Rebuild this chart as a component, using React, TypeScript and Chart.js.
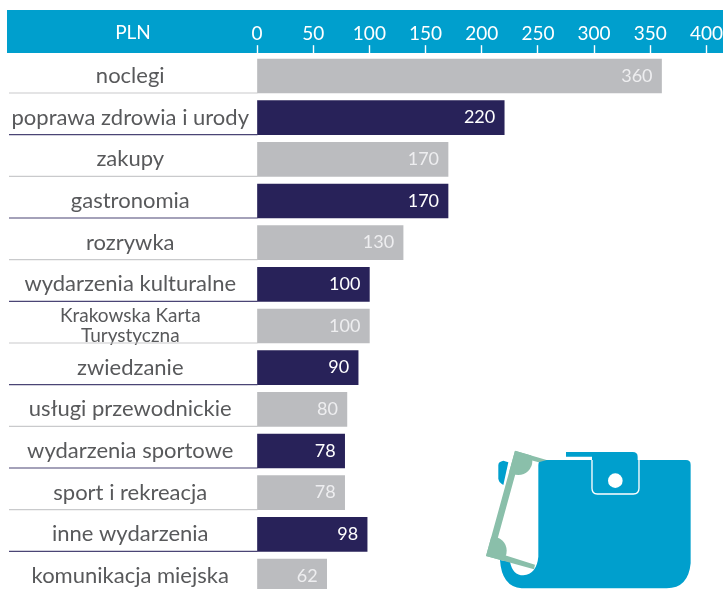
import React, { useEffect, useRef } from "react";
import { Chart, registerables } from "chart.js";

Chart.register(...registerables);

const categories: (string | string[])[] = [
  "noclegi", "poprawa zdrowia i urody", "zakupy", "gastronomia", "rozrywka",
  "wydarzenia kulturalne", ["Krakowska Karta", "Turystyczna"], "zwiedzanie",
  "usługi przewodnickie", "wydarzenia sportowe", "sport i rekreacja",
  "inne wydarzenia", "komunikacja miejska",
];
const values = [360, 220, 170, 170, 130, 100, 100, 90, 80, 78, 78, 98, 62];
const xTicks = [0, 50, 100, 150, 200, 250, 300, 350, 400];
const unitLabel = "PLN";

const BLUE = "#009fcd";
const NAVY = "#282259";
const GRAY = "#bbbcbf";
const TEXT = "#58595b";
const GREEN = "#8abfaa";
const FONT = "Lato";

const barColors = values.map((_, i) => (i % 2 === 0 ? GRAY : NAVY));

const decorations = {
  id: "decorations",
  beforeDatasetsDraw(chart: any) {
    const { ctx } = chart;
    const meta = chart.getDatasetMeta(0);
    ctx.save();
    meta.data.forEach((bar: any, i: number) => {
      const bottom = bar.y + bar.height / 2;
      ctx.strokeStyle = i % 2 === 0 ? "#c9cacc" : "#4a4575";
      ctx.lineWidth = 1.2;
      ctx.beginPath();
      ctx.moveTo(9, bottom);
      ctx.lineTo(bar.base, bottom);
      ctx.stroke();
    });
    ctx.restore();
  },
  beforeDraw(chart: any) {
    const { ctx } = chart;
    ctx.save();
    ctx.fillStyle = BLUE;
    ctx.fillRect(7, 10, 716, 43);
    ctx.fillStyle = "#ffffff";
    ctx.font = `19px ${FONT}`;
    ctx.textAlign = "center";
    ctx.textBaseline = "middle";
    ctx.fillText(unitLabel, 133, 33);
    ctx.restore();
  },
  afterDatasetsDraw(chart: any) {
    const { ctx } = chart;
    const meta = chart.getDatasetMeta(0);
    ctx.save();
    ctx.font = `18px ${FONT}`;
    ctx.textAlign = "right";
    ctx.textBaseline = "middle";
    meta.data.forEach((bar: any, i: number) => {
      ctx.fillStyle = i % 2 === 0 ? "#eeeef0" : "#ffffff";
      ctx.fillText(String(values[i]), bar.x - 9, bar.y);
    });
    ctx.restore();
  },
};

function Wallet() {
  return (
    <svg
      width={723}
      height={589}
      style={{ position: "absolute", left: 0, top: 0, pointerEvents: "none" }}
    >
      <defs>
        <clipPath id="note">
          <path d="M135 62 L230 90 L195 418 L48 378 Z" />
        </clipPath>
      </defs>
      <g transform="translate(470 430) scale(0.3333)">
        <path
          d="M85 105 Q85 95 100 92 L115 97 L100 165 Q85 158 85 145 Z"
          fill={BLUE}
        />
        <path
          d="M205 105 Q205 90 220 90 L366 90 L366 80 L288 80 L288 66 L488 66 Q503 66 503 80 L503 90 L648 90 Q662 90 662 104 L662 400 Q655 475 590 475 L155 475 Q95 470 90 390 L120 395 Q128 436 160 436 Q200 432 205 380 Z"
          fill={BLUE}
        />
        <path
          d="M366 90 L366 175 Q366 192 382 192 L490 192 Q507 192 507 175 L507 90"
          fill="none"
          stroke="#ffffff"
          strokeWidth={4}
        />
        <circle cx={436} cy={152} r={22} fill="#ffffff" />
        <path
          d="M135 62 L230 90 L206 97 L150 82 L72 365 L195 404 L192 418 L48 378 Z"
          fill={GREEN}
        />
        <g clipPath="url(#note)">
          <circle cx={145} cy={93} r={42} fill={GREEN} />
          <circle cx={68} cy={362} r={42} fill={GREEN} />
        </g>
      </g>
    </svg>
  );
}

export default function App() {
  const ref = useRef<HTMLCanvasElement>(null);
  useEffect(() => {
    const chart = new Chart(ref.current!, {
      type: "bar",
      data: {
        labels: categories as any,
        datasets: [
          { data: values, backgroundColor: barColors, barThickness: 34 },
        ],
      },
      plugins: [decorations],
      options: {
        indexAxis: "y",
        animation: false,
        responsive: false,
        layout: { padding: { right: 16, bottom: 23.2 } },
        plugins: { legend: { display: false }, tooltip: { enabled: false } },
        scales: {
          x: {
            position: "top",
            min: 0,
            max: 400,
            afterBuildTicks: (axis: any) => {
              axis.ticks = xTicks.map((value) => ({ value }));
            },
            afterFit: (axis: any) => {
              axis.height = 55.17;
            },
            border: { display: false },
            grid: {
              drawOnChartArea: false,
              drawTicks: true,
              tickLength: 10,
              tickWidth: 1.4,
              tickColor: "#ffffff",
            },
            ticks: {
              color: "#ffffff",
              font: { family: FONT, size: 19 },
              maxRotation: 0,
              autoSkip: false,
              padding: 0,
            },
          },
          y: {
            afterFit: (axis: any) => {
              axis.width = 257;
            },
            border: { display: false },
            grid: { display: false },
            ticks: {
              color: TEXT,
              crossAlign: "center",
              autoSkip: false,
              padding: 0,
              font: (ctx: any) =>
                Array.isArray(categories[ctx.index])
                  ? { family: FONT, size: 19, lineHeight: 1.05 }
                  : { family: FONT, size: 22 },
            },
          },
        },
      } as any,
    });
    return () => chart.destroy();
  }, []);
  return (
    <div
      style={{
        position: "fixed",
        left: 0,
        top: 0,
        width: 723,
        height: 589,
        overflow: "hidden",
        background: "#ffffff",
      }}
    >
      <canvas ref={ref} width={723} height={620} style={{ display: "block" }} />
      <Wallet />
    </div>
  );
}
